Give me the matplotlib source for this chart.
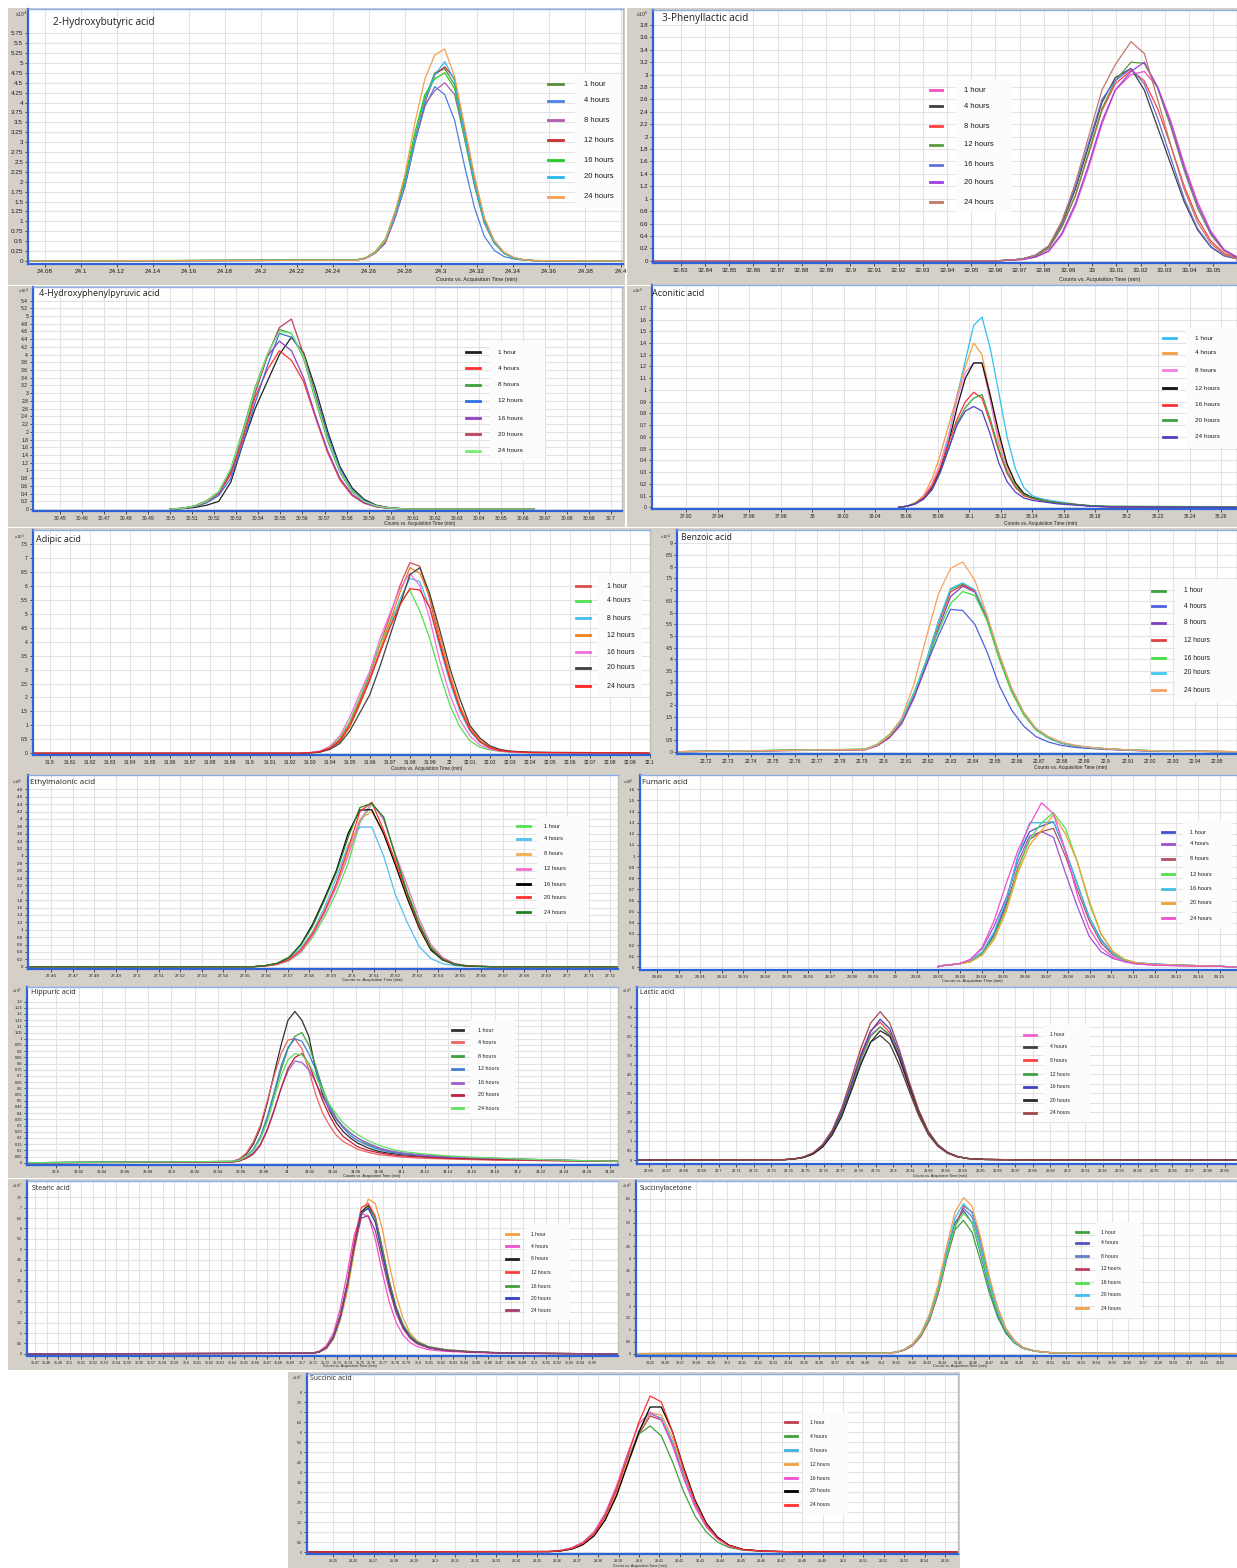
import numpy as np
import matplotlib.pyplot as plt
from matplotlib.lines import Line2D
from matplotlib.patches import Rectangle

plt.rcParams["font.family"] = ["Liberation Sans", "DejaVu Sans"]

W, H = 1237, 1568
hours = ["1 hour", "4 hours", "8 hours", "12 hours", "16 hours", "20 hours", "24 hours"]

# ---------------- data ----------------
# 2-Hydroxybutyric acid  (x10^4)
hba_t = [24.2525, 24.258, 24.2635, 24.269, 24.2745, 24.28, 24.2855, 24.291, 24.2965, 24.302,
         24.3075, 24.313, 24.3185, 24.324, 24.3295, 24.335, 24.3405, 24.346, 24.3515]
hba_y = [
    [0.02, 0.07, 0.22, 0.5, 1.2, 2.0, 3.1, 4.1, 4.75, 4.85, 4.45, 3.2, 2.0, 1.0, 0.48, 0.2, 0.08, 0.03, 0.01],
    [0.02, 0.07, 0.2, 0.45, 1.1, 1.9, 3.0, 3.9, 4.4, 4.2, 3.55, 2.4, 1.35, 0.62, 0.27, 0.11, 0.05, 0.02, 0.01],
    [0.02, 0.06, 0.2, 0.47, 1.1, 1.9, 3.0, 3.95, 4.3, 4.5, 4.2, 3.1, 1.9, 0.95, 0.45, 0.19, 0.08, 0.03, 0.01],
    [0.02, 0.07, 0.21, 0.48, 1.15, 1.95, 3.05, 4.0, 4.7, 4.9, 4.6, 3.35, 2.1, 1.05, 0.5, 0.21, 0.08, 0.03, 0.01],
    [0.03, 0.08, 0.24, 0.55, 1.25, 2.1, 3.25, 4.2, 4.6, 4.75, 4.35, 3.1, 1.95, 0.98, 0.46, 0.19, 0.07, 0.03, 0.01],
    [0.02, 0.07, 0.21, 0.5, 1.15, 1.95, 3.05, 4.05, 4.7, 5.03, 4.55, 3.2, 2.0, 1.0, 0.48, 0.2, 0.08, 0.03, 0.01],
    [0.02, 0.07, 0.22, 0.52, 1.25, 2.2, 3.5, 4.6, 5.2, 5.35, 4.65, 3.4, 2.15, 1.1, 0.52, 0.22, 0.09, 0.03, 0.01],
]
hba_base = [24.0706, 24.401]
hba_colors = ["#5b8c3e", "#4f7fe0", "#b05ab0", "#c83030", "#22cc22", "#2ab8f0", "#f5a050"]

# 3-Phenyllactic acid  (x10^5)
pla_t = [32.96, 32.9655, 32.971, 32.9765, 32.982, 32.9875, 32.993, 32.9985, 33.004, 33.0095,
         33.016, 33.0215, 33.027, 33.0325, 33.038, 33.0435, 33.049, 33.0545, 33.06]
pla_y = [
    [0, 0.01, 0.02, 0.06, 0.15, 0.42, 0.88, 1.5, 2.2, 2.75, 3.0, 3.05, 2.8, 2.25, 1.55, 0.95, 0.48, 0.18, 0.06],
    [0, 0.01, 0.03, 0.09, 0.23, 0.6, 1.15, 1.85, 2.55, 2.95, 3.1, 2.75, 2.15, 1.55, 0.95, 0.5, 0.22, 0.08, 0.03],
    [0, 0.01, 0.03, 0.08, 0.2, 0.55, 1.05, 1.72, 2.42, 2.85, 3.07, 2.9, 2.45, 1.85, 1.2, 0.68, 0.32, 0.12, 0.04],
    [0, 0.01, 0.03, 0.08, 0.2, 0.55, 1.05, 1.75, 2.45, 2.9, 3.2, 3.18, 2.78, 2.15, 1.45, 0.85, 0.42, 0.16, 0.05],
    [0, 0.01, 0.03, 0.09, 0.24, 0.62, 1.2, 1.9, 2.6, 2.9, 3.1, 2.85, 2.3, 1.65, 1.0, 0.52, 0.23, 0.08, 0.03],
    [0, 0.01, 0.02, 0.06, 0.16, 0.45, 0.92, 1.55, 2.25, 2.75, 3.05, 3.2, 2.8, 2.2, 1.5, 0.9, 0.45, 0.17, 0.05],
    [0, 0.01, 0.03, 0.09, 0.24, 0.65, 1.25, 2.0, 2.75, 3.16, 3.53, 3.34, 2.6, 1.85, 1.15, 0.62, 0.28, 0.1, 0.03],
]
pla_base = [32.8185, 33.06]
pla_colors = ["#f050c0", "#404040", "#ff4040", "#5a9a40", "#6070e0", "#a040e0", "#c07868"]

# 4-Hydroxyphenylpyruvic acid  (x10^4)
hpp_t = [30.5, 30.5055, 30.511, 30.5165, 30.522, 30.5275, 30.533, 30.5385, 30.544, 30.5495, 30.555,
         30.5605, 30.566, 30.5715, 30.577, 30.5825, 30.588, 30.5935, 30.599, 30.6045, 30.61]
hpp_y = [
    [0, 0.01, 0.04, 0.1, 0.2, 0.7, 1.7, 2.6, 3.3, 4.0, 4.45, 4.05, 3.1, 2.0, 1.1, 0.55, 0.25, 0.1, 0.04, 0.015, 0],
    [0, 0.02, 0.08, 0.2, 0.4, 0.9, 1.8, 2.9, 3.6, 4.1, 3.85, 3.3, 2.35, 1.45, 0.75, 0.35, 0.15, 0.06, 0.02, 0.01, 0],
    [0, 0.02, 0.08, 0.22, 0.45, 1.05, 2.05, 3.15, 4.0, 4.65, 4.55, 3.9, 2.8, 1.75, 0.95, 0.45, 0.2, 0.08, 0.03, 0.01, 0],
    [0, 0.02, 0.06, 0.16, 0.35, 0.8, 1.7, 2.75, 3.7, 4.55, 4.45, 4.0, 2.95, 1.9, 1.05, 0.5, 0.22, 0.09, 0.03, 0.01, 0],
    [0, 0.02, 0.08, 0.2, 0.42, 1.0, 2.0, 3.05, 3.95, 4.35, 4.1, 3.4, 2.4, 1.5, 0.8, 0.38, 0.16, 0.06, 0.02, 0.01, 0],
    [0, 0.02, 0.07, 0.18, 0.4, 0.95, 1.9, 3.0, 3.95, 4.7, 4.92, 4.0, 2.9, 1.8, 0.98, 0.47, 0.2, 0.08, 0.03, 0.01, 0],
    [0, 0.02, 0.08, 0.2, 0.45, 1.05, 2.0, 3.1, 4.0, 4.6, 4.55, 3.95, 2.85, 1.8, 0.98, 0.47, 0.2, 0.08, 0.03, 0.01, 0],
]
hpp_base = [30.5, 30.665]
hpp_colors = ["#202020", "#ff3030", "#40a040", "#3070e0", "#9040c0", "#c04060", "#70f070"]

# Aconitic acid  (x10^5)
aco_t = [38.055, 38.0603, 38.0656, 38.0709, 38.0762, 38.0815, 38.0868, 38.0921, 38.0974, 38.1027,
         38.108, 38.1133, 38.1186, 38.1239, 38.1292, 38.1345, 38.1398, 38.1451, 38.1504, 38.1557,
         38.161, 38.1663, 38.1716, 38.1769, 38.19, 38.27]
aco_y = [
    [0, 0.01, 0.04, 0.08, 0.17, 0.32, 0.6, 0.95, 1.25, 1.55, 1.62, 1.35, 0.98, 0.6, 0.33, 0.17, 0.1, 0.075, 0.06, 0.05, 0.04, 0.03, 0.02, 0.015, 0.005, 0],
    [0, 0.01, 0.04, 0.1, 0.24, 0.45, 0.7, 0.95, 1.2, 1.4, 1.3, 0.95, 0.6, 0.35, 0.2, 0.12, 0.08, 0.06, 0.05, 0.04, 0.03, 0.025, 0.02, 0.01, 0.005, 0],
    [0, 0.01, 0.03, 0.09, 0.2, 0.38, 0.62, 0.92, 1.15, 1.23, 1.23, 0.9, 0.55, 0.32, 0.18, 0.11, 0.08, 0.06, 0.05, 0.04, 0.03, 0.025, 0.02, 0.01, 0.005, 0],
    [0, 0.01, 0.03, 0.08, 0.17, 0.32, 0.55, 0.85, 1.1, 1.23, 1.23, 0.95, 0.64, 0.37, 0.21, 0.12, 0.085, 0.065, 0.05, 0.04, 0.03, 0.025, 0.02, 0.01, 0.005, 0],
    [0, 0.01, 0.03, 0.08, 0.18, 0.34, 0.55, 0.75, 0.9, 0.98, 0.93, 0.72, 0.48, 0.29, 0.17, 0.1, 0.075, 0.06, 0.05, 0.04, 0.03, 0.025, 0.02, 0.01, 0.005, 0],
    [0, 0.01, 0.03, 0.07, 0.15, 0.3, 0.5, 0.72, 0.85, 0.93, 0.96, 0.75, 0.5, 0.3, 0.18, 0.11, 0.08, 0.065, 0.05, 0.04, 0.03, 0.025, 0.02, 0.015, 0.01, 0.005],
    [0, 0.01, 0.03, 0.07, 0.15, 0.3, 0.5, 0.7, 0.82, 0.86, 0.82, 0.62, 0.38, 0.22, 0.13, 0.08, 0.06, 0.05, 0.04, 0.03, 0.025, 0.02, 0.015, 0.01, 0.005, 0],
]
aco_base = [38.055, 38.27]
aco_colors = ["#30c0f0", "#f0a040", "#f080e0", "#101010", "#ff3030", "#40a040", "#5040c0"]

# Adipic acid  (x10^5)
adi_t = [31.925, 31.93, 31.935, 31.94, 31.945, 31.95, 31.955, 31.96, 31.965, 31.97, 31.975, 31.98, 31.985,
         31.99, 31.995, 32.0, 32.005, 32.01, 32.015, 32.02, 32.025, 32.03, 32.04, 32.06, 32.09]
adi_y = [
    [0, 0.02, 0.06, 0.2, 0.5, 1.1, 1.9, 2.8, 3.9, 4.9, 6.0, 6.83, 6.7, 5.5, 4.0, 2.7, 1.6, 0.85, 0.42, 0.2, 0.1, 0.06, 0.03, 0.02, 0.02],
    [0, 0.02, 0.07, 0.22, 0.55, 1.15, 2.0, 2.9, 3.9, 4.7, 5.4, 5.85, 5.1, 4.1, 2.85, 1.73, 0.95, 0.45, 0.22, 0.12, 0.07, 0.04, 0.02, 0.02, 0.01],
    [0, 0.02, 0.05, 0.17, 0.42, 0.95, 1.75, 2.6, 3.6, 4.55, 5.5, 6.27, 6.15, 5.2, 3.8, 2.55, 1.5, 0.8, 0.4, 0.19, 0.1, 0.05, 0.03, 0.02, 0.01],
    [0, 0.02, 0.05, 0.16, 0.4, 0.95, 1.75, 2.65, 3.7, 4.7, 5.75, 6.65, 6.45, 5.6, 4.2, 2.85, 1.7, 0.95, 0.48, 0.23, 0.12, 0.07, 0.03, 0.02, 0.02],
    [0, 0.03, 0.08, 0.25, 0.62, 1.3, 2.15, 2.95, 4.1, 5.0, 5.9, 6.45, 6.0, 4.8, 3.3, 2.1, 1.2, 0.62, 0.3, 0.15, 0.08, 0.05, 0.03, 0.02, 0.01],
    [0, 0.01, 0.04, 0.14, 0.35, 0.8, 1.45, 2.1, 3.1, 4.2, 5.3, 6.4, 6.65, 5.7, 4.4, 3.06, 1.95, 1.0, 0.55, 0.27, 0.14, 0.08, 0.04, 0.03, 0.02],
    [0, 0.02, 0.06, 0.18, 0.45, 1.0, 1.8, 2.65, 3.6, 4.5, 5.3, 5.9, 5.85, 5.2, 3.9, 2.65, 1.6, 0.85, 0.42, 0.2, 0.1, 0.06, 0.03, 0.02, 0.02],
]
adi_base = [31.7916, 32.1]
adi_colors = ["#d85050", "#50e050", "#40c0f0", "#f08020", "#f070e0", "#404040", "#ff2020"]

# Benzoic acid  (x10^4)
ben_t = [22.7915, 22.797, 22.8025, 22.808, 22.8135, 22.819, 22.8245, 22.83, 22.8355, 22.841, 22.8465, 22.852,
         22.8575, 22.863, 22.8685, 22.874, 22.8795, 22.885, 22.8905, 22.896, 22.9015, 22.907, 22.915, 22.925]
ben_y = [
    [0.1, 0.3, 0.7, 1.35, 2.5, 3.9, 5.6, 7.0, 7.25, 6.95, 5.7, 4.0, 2.6, 1.6, 0.95, 0.6, 0.38, 0.27, 0.2, 0.15, 0.12, 0.09, 0.06, 0.03],
    [0.1, 0.3, 0.68, 1.3, 2.4, 3.7, 5.0, 6.15, 6.1, 5.5, 4.3, 2.85, 1.8, 1.1, 0.65, 0.42, 0.28, 0.2, 0.15, 0.12, 0.09, 0.07, 0.04, 0.02],
    [0.08, 0.25, 0.6, 1.2, 2.3, 3.7, 5.3, 6.7, 7.15, 6.9, 5.75, 4.1, 2.65, 1.62, 0.95, 0.6, 0.38, 0.26, 0.19, 0.14, 0.11, 0.08, 0.05, 0.03],
    [0.09, 0.28, 0.65, 1.3, 2.45, 3.85, 5.5, 6.9, 7.2, 6.95, 5.8, 4.15, 2.7, 1.65, 0.98, 0.62, 0.4, 0.28, 0.2, 0.15, 0.12, 0.09, 0.06, 0.03],
    [0.11, 0.32, 0.75, 1.4, 2.55, 3.9, 5.2, 6.4, 6.92, 6.75, 5.65, 4.0, 2.6, 1.6, 0.95, 0.6, 0.38, 0.27, 0.2, 0.15, 0.12, 0.09, 0.06, 0.03],
    [0.1, 0.3, 0.7, 1.35, 2.5, 3.9, 5.6, 7.05, 7.3, 7.0, 5.85, 4.2, 2.75, 1.7, 1.0, 0.63, 0.4, 0.28, 0.2, 0.15, 0.12, 0.09, 0.06, 0.03],
    [0.1, 0.3, 0.7, 1.45, 2.9, 4.9, 6.8, 7.92, 8.2, 7.4, 5.9, 4.2, 2.75, 1.7, 1.02, 0.66, 0.43, 0.3, 0.22, 0.16, 0.12, 0.09, 0.06, 0.03],
]
ben_base = [22.707, 22.959]
ben_colors = ["#40a040", "#5060e0", "#8040c0", "#e04040", "#40e040", "#40c8f0", "#f8a060"]

# Ethylmalonic acid  (x10^5)
eth_t = [27.554, 27.5595, 27.565, 27.5705, 27.576, 27.5815, 27.587, 27.5925, 27.598, 27.6035, 27.609,
         27.6145, 27.62, 27.6255, 27.631, 27.6365, 27.642, 27.6475, 27.653, 27.6585, 27.665]
eth_y = [
    [0, 0.02, 0.06, 0.16, 0.38, 0.8, 1.35, 2.0, 2.8, 3.9, 4.4, 4.05, 3.0, 2.05, 1.2, 0.55, 0.22, 0.08, 0.03, 0.01, 0],
    [0, 0.03, 0.08, 0.22, 0.5, 0.95, 1.6, 2.4, 3.3, 3.78, 3.78, 3.0, 1.95, 1.2, 0.55, 0.22, 0.08, 0.03, 0.01, 0, 0],
    [0, 0.02, 0.07, 0.2, 0.45, 0.9, 1.5, 2.2, 3.1, 4.0, 4.2, 3.65, 2.8, 1.95, 1.15, 0.5, 0.2, 0.07, 0.03, 0.01, 0],
    [0, 0.02, 0.06, 0.17, 0.4, 0.85, 1.45, 2.15, 3.0, 3.95, 4.45, 3.97, 3.05, 2.2, 1.3, 0.6, 0.25, 0.09, 0.03, 0.01, 0],
    [0, 0.03, 0.09, 0.25, 0.6, 1.15, 1.85, 2.6, 3.61, 4.24, 4.25, 3.6, 2.75, 1.85, 1.05, 0.45, 0.18, 0.06, 0.02, 0.01, 0],
    [0, 0.02, 0.07, 0.19, 0.45, 0.9, 1.5, 2.25, 3.2, 4.2, 4.45, 3.7, 2.85, 1.95, 1.1, 0.5, 0.2, 0.07, 0.02, 0.01, 0],
    [0, 0.03, 0.09, 0.25, 0.58, 1.1, 1.8, 2.55, 3.5, 4.31, 4.42, 4.05, 3.0, 2.0, 1.15, 0.5, 0.2, 0.07, 0.02, 0.01, 0],
]
eth_base = [27.449, 27.7235]
eth_colors = ["#50e050", "#50c0f0", "#f0b050", "#f070d0", "#000000", "#ff3030", "#208020"]

# Fumaric acid  (x10^6)
fum_t = [29.02, 29.0238, 29.0293, 29.0348, 29.0403, 29.0458, 29.0513, 29.0568, 29.0622, 29.0677, 29.0732,
         29.0787, 29.0842, 29.0897, 29.0952, 29.1007, 29.1062, 29.1117, 29.12, 29.13, 29.14, 29.15]
fum_y = [
    [0.01, 0.02, 0.03, 0.06, 0.13, 0.3, 0.58, 1.0, 1.22, 1.27, 1.31, 1.05, 0.75, 0.45, 0.25, 0.12, 0.06, 0.04, 0.03, 0.02, 0.015, 0.01],
    [0.01, 0.02, 0.03, 0.07, 0.17, 0.37, 0.62, 0.95, 1.18, 1.22, 1.17, 0.85, 0.55, 0.28, 0.14, 0.08, 0.05, 0.03, 0.02, 0.015, 0.01, 0.01],
    [0.01, 0.02, 0.03, 0.05, 0.12, 0.28, 0.55, 0.9, 1.15, 1.22, 1.25, 1.0, 0.7, 0.42, 0.22, 0.11, 0.06, 0.04, 0.025, 0.02, 0.015, 0.01],
    [0.01, 0.02, 0.03, 0.05, 0.12, 0.27, 0.52, 0.88, 1.15, 1.3, 1.39, 1.25, 0.95, 0.58, 0.3, 0.14, 0.07, 0.04, 0.025, 0.02, 0.015, 0.01],
    [0.01, 0.02, 0.03, 0.06, 0.14, 0.32, 0.6, 1.0, 1.3, 1.3, 1.31, 1.05, 0.75, 0.45, 0.24, 0.12, 0.06, 0.04, 0.03, 0.02, 0.015, 0.01],
    [0.01, 0.02, 0.03, 0.05, 0.11, 0.25, 0.5, 0.85, 1.1, 1.23, 1.37, 1.2, 0.95, 0.6, 0.3, 0.14, 0.07, 0.04, 0.025, 0.02, 0.015, 0.01],
    [0.01, 0.02, 0.03, 0.07, 0.18, 0.42, 0.75, 1.05, 1.28, 1.48, 1.38, 1.05, 0.65, 0.35, 0.18, 0.09, 0.05, 0.03, 0.02, 0.015, 0.01, 0.01],
]
fum_base = [29.02, 29.158]
fum_colors = ["#4050d0", "#a050d0", "#b05060", "#50e050", "#40c0e0", "#f0a030", "#f050d0"]

# Hippuric acid  (x10^5)
hip_t = [33.953, 33.959, 33.965, 33.971, 33.977, 33.983, 33.989, 33.995, 34.001, 34.007, 34.013, 34.019,
         34.025, 34.031, 34.037, 34.043, 34.049, 34.055, 34.061, 34.07, 34.08, 34.09, 34.1, 34.12, 34.14,
         34.16, 34.18, 34.2, 34.23, 34.26, 34.287]
hip_y = [
    [0.01, 0.03, 0.07, 0.15, 0.28, 0.48, 0.72, 0.95, 1.15, 1.22, 1.15, 1.02, 0.75, 0.55, 0.42, 0.32, 0.25, 0.2, 0.16, 0.12, 0.09, 0.075, 0.065, 0.05, 0.04, 0.035, 0.03, 0.025, 0.02, 0.015, 0.012],
    [0.01, 0.03, 0.08, 0.17, 0.3, 0.5, 0.7, 0.88, 0.99, 1.0, 0.92, 0.75, 0.55, 0.4, 0.3, 0.22, 0.17, 0.14, 0.11, 0.085, 0.065, 0.055, 0.045, 0.035, 0.03, 0.025, 0.02, 0.02, 0.015, 0.012, 0.01],
    [0.01, 0.02, 0.05, 0.1, 0.2, 0.35, 0.55, 0.75, 0.92, 1.02, 1.05, 0.95, 0.78, 0.6, 0.46, 0.36, 0.29, 0.24, 0.2, 0.15, 0.115, 0.09, 0.075, 0.06, 0.05, 0.04, 0.035, 0.03, 0.022, 0.016, 0.012],
    [0.01, 0.02, 0.05, 0.11, 0.21, 0.37, 0.57, 0.78, 0.93, 1.0, 0.98, 0.88, 0.75, 0.58, 0.45, 0.35, 0.28, 0.22, 0.18, 0.14, 0.105, 0.085, 0.07, 0.055, 0.045, 0.038, 0.032, 0.027, 0.02, 0.015, 0.012],
    [0.005, 0.015, 0.04, 0.08, 0.15, 0.27, 0.43, 0.6, 0.74, 0.82, 0.81, 0.75, 0.65, 0.53, 0.43, 0.35, 0.29, 0.24, 0.2, 0.16, 0.12, 0.095, 0.08, 0.06, 0.05, 0.04, 0.035, 0.03, 0.022, 0.016, 0.012],
    [0.005, 0.015, 0.035, 0.07, 0.14, 0.26, 0.42, 0.6, 0.76, 0.85, 0.88, 0.8, 0.65, 0.5, 0.38, 0.28, 0.21, 0.17, 0.13, 0.1, 0.08, 0.065, 0.055, 0.045, 0.035, 0.03, 0.025, 0.022, 0.018, 0.014, 0.01],
    [0.01, 0.02, 0.05, 0.1, 0.19, 0.33, 0.52, 0.7, 0.83, 0.88, 0.87, 0.8, 0.7, 0.58, 0.47, 0.39, 0.32, 0.27, 0.23, 0.18, 0.14, 0.11, 0.09, 0.07, 0.055, 0.045, 0.038, 0.03, 0.022, 0.016, 0.012],
]
hip_base = [33.7747, 34.287]
hip_colors = ["#303030", "#f06060", "#40a040", "#4080d0", "#a060d0", "#c02040", "#60e060"]

# Lactic acid  (x10^5)
lac_t = [22.7375, 22.743, 22.7485, 22.754, 22.7595, 22.765, 22.7705, 22.776, 22.7815, 22.787, 22.7925,
         22.798, 22.8035, 22.809, 22.8145, 22.82, 22.8255, 22.831, 22.8365, 22.8425, 22.8525, 22.8725]
lac_y = [
    [0.02, 0.06, 0.15, 0.35, 0.75, 1.45, 2.5, 3.9, 5.4, 6.6, 7.0, 6.5, 5.3, 3.8, 2.45, 1.4, 0.75, 0.38, 0.18, 0.08, 0.03, 0.01],
    [0.02, 0.05, 0.13, 0.32, 0.7, 1.35, 2.35, 3.7, 5.1, 6.2, 6.55, 6.1, 5.0, 3.65, 2.35, 1.35, 0.72, 0.36, 0.17, 0.08, 0.03, 0.01],
    [0.02, 0.06, 0.15, 0.36, 0.78, 1.5, 2.6, 4.05, 5.6, 6.8, 7.25, 6.7, 5.4, 3.9, 2.5, 1.45, 0.78, 0.38, 0.18, 0.08, 0.03, 0.01],
    [0.02, 0.05, 0.14, 0.33, 0.72, 1.4, 2.45, 3.85, 5.3, 6.5, 7.0, 6.6, 5.4, 3.95, 2.55, 1.48, 0.8, 0.4, 0.19, 0.08, 0.03, 0.01],
    [0.02, 0.06, 0.15, 0.35, 0.76, 1.48, 2.55, 4.0, 5.5, 6.75, 7.4, 6.9, 5.6, 4.05, 2.6, 1.5, 0.8, 0.4, 0.19, 0.08, 0.03, 0.01],
    [0.02, 0.05, 0.13, 0.31, 0.68, 1.32, 2.3, 3.65, 5.05, 6.2, 6.8, 6.5, 5.35, 3.9, 2.55, 1.5, 0.8, 0.4, 0.19, 0.08, 0.03, 0.01],
    [0.02, 0.06, 0.16, 0.38, 0.82, 1.58, 2.75, 4.3, 5.9, 7.2, 7.8, 7.2, 5.8, 4.15, 2.65, 1.52, 0.8, 0.4, 0.19, 0.08, 0.03, 0.01],
]
lac_base = [22.6531, 22.997]
lac_colors = ["#f060d0", "#404040", "#ff4040", "#40a040", "#4040c0", "#302828", "#a04848"]

# Stearic acid  (x10^5)
ste_t = [35.709, 35.715, 35.721, 35.727, 35.733, 35.739, 35.745, 35.751, 35.757, 35.763, 35.769,
         35.775, 35.781, 35.787, 35.793, 35.799, 35.809, 35.824, 35.844, 35.864, 35.894]
ste_y = [
    [0.02, 0.08, 0.25, 0.7, 1.6, 3.0, 4.9, 6.6, 7.4, 7.2, 6.0, 4.3, 2.8, 1.7, 1.0, 0.62, 0.35, 0.2, 0.12, 0.07, 0.03],
    [0.04, 0.14, 0.4, 1.0, 2.2, 3.9, 5.7, 6.7, 6.6, 5.5, 3.9, 2.5, 1.5, 0.9, 0.55, 0.35, 0.2, 0.12, 0.07, 0.04, 0.02],
    [0.03, 0.1, 0.3, 0.8, 1.8, 3.3, 5.2, 6.8, 7.1, 6.5, 5.0, 3.4, 2.15, 1.3, 0.8, 0.52, 0.3, 0.17, 0.1, 0.06, 0.03],
    [0.03, 0.1, 0.3, 0.8, 1.85, 3.4, 5.4, 7.0, 7.2, 6.6, 5.1, 3.5, 2.2, 1.35, 0.82, 0.53, 0.3, 0.17, 0.1, 0.06, 0.03],
    [0.03, 0.1, 0.28, 0.75, 1.75, 3.25, 5.1, 6.7, 7.0, 6.5, 5.05, 3.5, 2.25, 1.4, 0.88, 0.58, 0.34, 0.2, 0.12, 0.07, 0.03],
    [0.03, 0.1, 0.3, 0.8, 1.8, 3.3, 5.2, 6.75, 6.95, 6.3, 4.8, 3.3, 2.1, 1.3, 0.8, 0.52, 0.3, 0.17, 0.1, 0.06, 0.03],
    [0.03, 0.11, 0.32, 0.85, 1.9, 3.4, 5.2, 6.5, 6.6, 5.9, 4.5, 3.1, 1.95, 1.2, 0.75, 0.48, 0.28, 0.16, 0.1, 0.06, 0.03],
]
ste_base = [35.4632, 35.972]
ste_colors = ["#f0a040", "#f050d0", "#202020", "#ff4040", "#40a040", "#3040c0", "#a04070"]

# Succinylacetone  (x10^5)
sca_t = [34.404, 34.4095, 34.415, 34.4205, 34.426, 34.4315, 34.437, 34.4425, 34.448, 34.4535,
         34.459, 34.4645, 34.47, 34.4755, 34.481, 34.4865, 34.492, 34.5, 34.51, 34.53]
sca_y = [
    [0.02, 0.06, 0.16, 0.38, 0.8, 1.5, 2.6, 4.0, 5.2, 5.6, 5.1, 3.9, 2.6, 1.55, 0.85, 0.45, 0.22, 0.1, 0.04, 0.01],
    [0.02, 0.06, 0.17, 0.4, 0.85, 1.6, 2.75, 4.2, 5.5, 6.0, 5.5, 4.2, 2.8, 1.65, 0.9, 0.47, 0.23, 0.1, 0.04, 0.01],
    [0.02, 0.05, 0.15, 0.36, 0.78, 1.5, 2.6, 4.05, 5.4, 6.1, 5.75, 4.5, 3.0, 1.8, 0.98, 0.5, 0.24, 0.1, 0.04, 0.01],
    [0.02, 0.05, 0.14, 0.34, 0.74, 1.42, 2.5, 3.95, 5.3, 6.2, 5.95, 4.75, 3.2, 1.95, 1.05, 0.55, 0.26, 0.11, 0.04, 0.01],
    [0.02, 0.06, 0.16, 0.38, 0.8, 1.52, 2.62, 4.05, 5.35, 5.9, 5.5, 4.3, 2.9, 1.72, 0.95, 0.49, 0.24, 0.1, 0.04, 0.01],
    [0.02, 0.06, 0.17, 0.4, 0.86, 1.62, 2.8, 4.3, 5.7, 6.3, 5.9, 4.6, 3.1, 1.85, 1.0, 0.52, 0.25, 0.11, 0.04, 0.01],
    [0.02, 0.06, 0.17, 0.41, 0.88, 1.68, 2.9, 4.5, 5.95, 6.55, 6.2, 4.9, 3.3, 1.95, 1.05, 0.55, 0.26, 0.11, 0.04, 0.01],
]
sca_base = [34.2409, 34.631]
sca_colors = ["#40a040", "#5050c0", "#6080c8", "#c04060", "#50e050", "#40c0f0", "#f0a050"]

# Succinic acid  (x10^5)
suc_t = [28.356, 28.3615, 28.367, 28.3725, 28.378, 28.3835, 28.389, 28.3945, 28.4, 28.4055,
         28.411, 28.4165, 28.422, 28.4275, 28.433, 28.4385, 28.444, 28.451, 28.461, 28.476]
suc_y = [
    [0.02, 0.06, 0.16, 0.4, 0.85, 1.65, 2.85, 4.4, 5.9, 6.8, 6.6, 5.4, 3.8, 2.4, 1.35, 0.7, 0.33, 0.12, 0.04, 0.01],
    [0.03, 0.08, 0.2, 0.48, 1.0, 1.9, 3.2, 4.7, 5.9, 6.3, 5.8, 4.5, 3.0, 1.8, 1.0, 0.5, 0.23, 0.09, 0.03, 0.01],
    [0.02, 0.06, 0.17, 0.42, 0.9, 1.75, 3.0, 4.6, 6.05, 6.9, 6.7, 5.5, 3.85, 2.4, 1.35, 0.7, 0.33, 0.12, 0.04, 0.01],
    [0.02, 0.06, 0.16, 0.4, 0.87, 1.7, 2.95, 4.55, 6.0, 6.95, 6.85, 5.7, 4.0, 2.5, 1.4, 0.72, 0.34, 0.12, 0.04, 0.01],
    [0.03, 0.08, 0.2, 0.48, 1.0, 1.95, 3.3, 4.95, 6.4, 7.0, 6.6, 5.3, 3.65, 2.25, 1.25, 0.65, 0.3, 0.11, 0.04, 0.01],
    [0.02, 0.05, 0.14, 0.36, 0.8, 1.6, 2.8, 4.4, 6.0, 7.25, 7.25, 6.0, 4.2, 2.6, 1.45, 0.75, 0.35, 0.13, 0.04, 0.01],
    [0.02, 0.06, 0.17, 0.42, 0.9, 1.8, 3.1, 4.8, 6.5, 7.8, 7.5, 6.0, 4.1, 2.5, 1.38, 0.7, 0.33, 0.12, 0.04, 0.01],
]
suc_base = [28.2373, 28.5564]
suc_colors = ["#c04050", "#40a040", "#40b0e0", "#f0a040", "#f050d0", "#000000", "#ff3030"]

# ---------------- drawing ----------------
fig = plt.figure(figsize=(W / 100, H / 100), dpi=100)
fig.patch.set_facecolor("white")


def fx(x):
    return x / W


def fy(y):
    return 1 - y / H


def draw(frame, axb, title, exp, t, ys, colors, base, xlim, ylim, xt, yt,
         tpos, epos, xlpos, leg, fs):
    # gray window frame behind the plot area
    x0, y0, x1, y1 = frame
    fig.add_artist(Rectangle((fx(x0), fy(y1)), (x1 - x0) / W, (y1 - y0) / H,
                             transform=fig.transFigure, facecolor="#d4d0c8",
                             edgecolor="none", zorder=-5))
    a0, b0, a1, b1 = axb
    ax = fig.add_axes([fx(a0), fy(b1), (a1 - a0) / W, (b1 - b0) / H])
    ax.set_facecolor("white")
    for y, c in zip(ys, colors):
        n = min(len(t), len(y))
        ax.plot([base[0]] + t[:n] + [base[1]], [0] + y[:n] + [0], color=c, lw=0.9)
    ax.set_xlim(*xlim)
    ax.set_ylim(*ylim)
    xticks = np.round(np.arange(xt[0], xt[1] + xt[2] / 2, xt[2]), 4)
    yticks = np.round(np.arange(yt[0], yt[1] + yt[2] / 2, yt[2]), 4)
    ax.set_xticks(xticks, [f"{v:g}" for v in xticks])
    ax.set_yticks(yticks, [f"{v:g}" for v in yticks])
    ax.tick_params(labelsize=fs[0], length=2.5, width=0.6, pad=1,
                   colors="#333333", labelcolor="#1a1a1a")
    ax.grid(True, color="#e3e3e3", lw=0.8)
    ax.set_axisbelow(True)
    for s, c, w in [("left", "#2d62d8", 1.6), ("bottom", "#2d62d8", 1.6),
                    ("top", "#8caee8", 1.0), ("right", "#bdbdbd", 1.0)]:
        ax.spines[s].set_color(c)
        ax.spines[s].set_linewidth(w)
    fig.text(fx(tpos[0]), fy(tpos[1]), title, fontsize=fs[1], family="Open Sans",
             va="center", color="#202020")
    fig.text(fx(epos[0]), fy(epos[1]), r"x10$^{%d}$" % exp, fontsize=fs[3],
             va="center", color="#333333")
    fig.text(fx(xlpos[0]), fy(xlpos[1]), "Counts vs. Acquisition Time (min)",
             fontsize=fs[4], ha="center", va="center", color="#222222")
    # legend: white box, short thick line, label
    lx0, lx1, lab_x, ly, bx = leg
    fig.add_artist(Rectangle((fx(bx[0]), fy(bx[3])), (bx[2] - bx[0]) / W, (bx[3] - bx[1]) / H,
                             transform=fig.transFigure, facecolor="#fcfcfc",
                             edgecolor="none", zorder=1))
    for h, c, yy in zip(hours, colors, ly):
        fig.add_artist(Line2D([fx(lx0), fx(lx1)], [fy(yy), fy(yy)], transform=fig.transFigure,
                              color=c, lw=2, zorder=2))
        fig.text(fx(lab_x), fy(yy), h, fontsize=fs[2], va="center", color="#1a1a1a")
    return ax


draw((8, 8, 625, 285), (28, 9, 623, 264), "2-Hydroxybutyric acid", 4, hba_t, hba_y, hba_colors,
     hba_base, (24.0706, 24.401), (-0.076, 6.36), (24.08, 24.40, 0.02), (0, 5.75, 0.25),
     (53, 23), (15, 14), (477, 280),
     (548, 563, 584, [84, 101, 120, 140, 160, 177, 197], (575, 74, 621, 208)), (4.6, 7.2, 5.5, 3.6, 4.0))

draw((627, 8, 1237, 285), (653, 10, 1237, 263), "3-Phenyllactic acid", 5, pla_t, pla_y, pla_colors,
     pla_base, (32.8185, 33.0598), (-0.035, 4.04), (32.83, 33.05, 0.01), (0, 3.8, 0.2),
     (662, 19), (636, 14), (1100, 279),
     (930, 942, 964, [90, 106, 126, 145, 165, 182, 202], (955, 80, 1012, 212)), (4.4, 7.2, 5.5, 3.6, 4.0))

draw((8, 286, 625, 527), (33, 287, 622, 511), "4-Hydroxyphenylpyruvic acid", 4, hpp_t, hpp_y, hpp_colors,
     hpp_base, (30.4377, 30.705), (-0.05, 5.75), (30.45, 30.70, 0.01), (0, 5.4, 0.2),
     (39, 293), (18, 291), (420, 523.5),
     (466, 480, 498, [352, 368, 385, 401, 418, 434, 451], (490, 342, 545, 460)), (3.6, 6.5, 4.6, 3.2, 3.4))

draw((627, 286, 1237, 527), (651.5, 285, 1237, 509), "Aconitic acid", 5, aco_t, aco_y, aco_colors,
     aco_base, (37.898, 38.27), (-0.014, 1.894), (37.92, 38.26, 0.02), (0, 1.7, 0.1),
     (652, 294), (632, 291), (1041, 523),
     (1163, 1176, 1195, [338, 353, 370, 388, 405, 420, 437], (1186, 328, 1237, 448)), (3.6, 6.5, 4.6, 3.2, 3.5))

draw((8, 528, 652, 776), (32.8, 530, 650, 755), "Adipic acid", 5, adi_t, adi_y, adi_colors,
     adi_base, (31.7916, 32.1), (-0.06, 8.0), (31.80, 32.10, 0.01), (0, 7.5, 0.5),
     (36, 539), (14, 537), (427, 769),
     (576, 590, 607, [586, 601, 618, 635, 652, 668, 686], (598, 575, 642, 697)), (3.6, 6.5, 5.0, 3.2, 3.4))

draw((652, 528, 1237, 776), (677.3, 530, 1237, 754), "Benzoic acid", 4, ben_t, ben_y, ben_colors,
     ben_base, (22.707, 22.959), (-0.1, 9.58), (22.72, 22.95, 0.01), (0, 9, 0.5),
     (681, 537), (660, 537), (1071, 768),
     (1152, 1165, 1184, [591, 606, 623, 640, 658, 673, 690], (1175, 580, 1237, 702)), (3.6, 6.3, 4.8, 3.2, 3.5))

draw((8, 776, 620, 985), (27.7, 775, 618, 968.7), "Ethylmalonic acid", 5, eth_t, eth_y, eth_colors,
     eth_base, (27.449, 27.7235), (-0.054, 5.19), (27.46, 27.72, 0.01), (0, 4.8, 0.2),
     (30, 782), (12, 782), (372, 980),
     (517, 530, 544, [826, 839, 854, 869, 884, 897, 912], (537, 816, 588, 922)), (3.2, 5.8, 4.1, 3.0, 3.0))

draw((620, 776, 1237, 985), (639.6, 775, 1237, 970), "Fumaric acid", 6, fum_t, fum_y, fum_colors,
     fum_base, (28.882, 29.158), (-0.024, 1.729), (28.89, 29.15, 0.01), (0, 1.6, 0.1),
     (642, 782), (623, 782), (972, 981),
     (1162, 1174, 1190, [832, 844, 859, 874, 889, 903, 918], (1183, 820, 1232, 928)), (3.2, 5.6, 4.0, 3.0, 3.0))

draw((8, 985, 618, 1178), (26.9, 986.7, 618, 1164.7), "Hippuric acid", 5, hip_t, hip_y, hip_colors,
     hip_base, (33.7747, 34.287), (-0.016, 1.42), (33.80, 34.28, 0.02), (0, 1.3, 0.05),
     (31, 993), (12, 991), (372, 1176),
     (452, 463, 478, [1030, 1042, 1056, 1069, 1083, 1095, 1108], (470, 1020, 515, 1118)), (2.9, 5.2, 3.9, 2.8, 2.8))

draw((618, 985, 1237, 1178), (637, 987, 1237, 1164), "Lactic acid", 5, lac_t, lac_y, lac_colors,
     lac_base, (22.6531, 22.997), (-0.21, 9.1), (22.66, 22.99, 0.01), (0, 8, 0.5),
     (640, 993), (622, 991), (940, 1176),
     (1024, 1036, 1050, [1035, 1047, 1060, 1074, 1087, 1100, 1113], (1043, 1025, 1090, 1122)), (2.8, 5.0, 3.6, 2.8, 2.6))

draw((8, 1179, 618, 1370), (27, 1181, 618, 1356), "Stearic acid", 5, ste_t, ste_y, ste_colors,
     ste_base, (35.4632, 35.972), (-0.1, 8.27), (35.47, 35.95, 0.01), (0, 7.5, 0.5),
     (32, 1188), (12, 1186), (350, 1366),
     (506, 518, 531, [1234, 1246, 1259, 1272, 1286, 1298, 1310], (525, 1224, 570, 1320)), (2.6, 5.0, 3.6, 2.8, 2.6))

draw((618, 1179, 1237, 1370), (636, 1181, 1237, 1356), "Succinylacetone", 5, sca_t, sca_y, sca_colors,
     sca_base, (34.2409, 34.631), (-0.1, 7.25), (34.25, 34.62, 0.01), (0, 6.5, 0.5),
     (640, 1188), (622, 1186), (960, 1366),
     (1076, 1088, 1101, [1232, 1243, 1256, 1269, 1283, 1295, 1308], (1095, 1222, 1140, 1318)), (2.6, 5.0, 3.6, 2.8, 2.6))

draw((288, 1372, 960, 1568), (307, 1374, 958, 1554), "Succinic acid", 5, suc_t, suc_y, suc_colors,
     suc_base, (28.2373, 28.5564), (-0.1, 8.9), (28.25, 28.55, 0.01), (0, 8, 0.5),
     (310, 1378), (292, 1378), (640, 1566),
     (785, 797, 810, [1422, 1436, 1450, 1464, 1478, 1491, 1505], (803, 1412, 848, 1515)), (2.6, 5.0, 3.6, 2.8, 2.6))

fig.savefig("out.png", dpi=100)
